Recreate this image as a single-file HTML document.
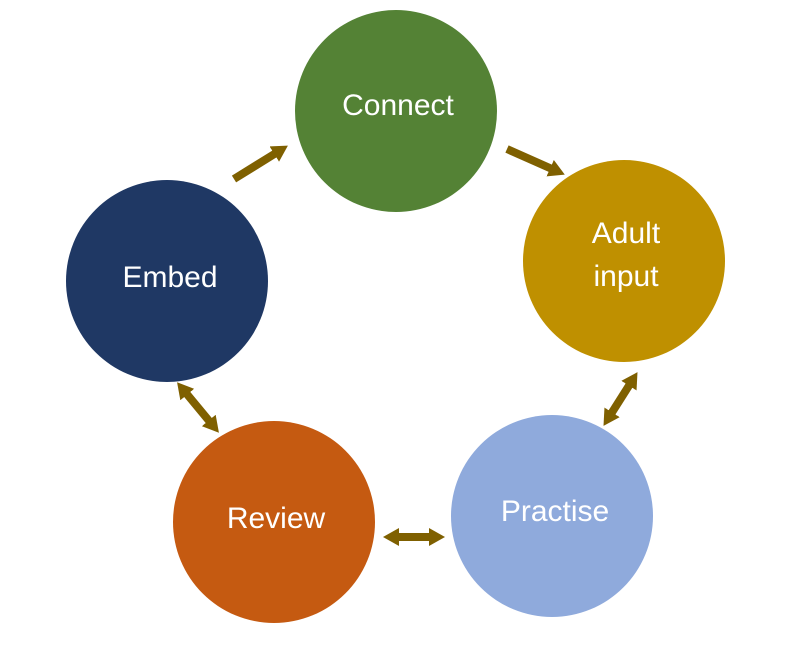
<!DOCTYPE html>
<html><head><meta charset="utf-8"><style>
html,body{margin:0;padding:0;background:#fff;}
svg{display:block}
text{font-family:"Liberation Sans",sans-serif;fill:#fff;font-size:30px;text-anchor:middle}
</style></head><body>
<svg width="794" height="651" viewBox="0 0 794 651">
<defs>
<marker id="h" markerUnits="userSpaceOnUse" markerWidth="16" markerHeight="18" refX="2" refY="9" orient="auto-start-reverse">
<path d="M0,0 L16,9 L0,18 Z" fill="#7F6000"/>
</marker>
</defs>
<circle cx="396" cy="111" r="101" fill="#548235"/>
<circle cx="624" cy="261" r="101" fill="#BF9000"/>
<circle cx="552" cy="516" r="101" fill="#8FAADC"/>
<circle cx="274" cy="522" r="101" fill="#C55A11"/>
<circle cx="167" cy="281" r="101" fill="#1F3864"/>
<g stroke="#7F6000" stroke-width="8" fill="none">
<line x1="234" y1="179" x2="276" y2="153" marker-end="url(#h)"/>
<line x1="507" y1="149" x2="552" y2="169" marker-end="url(#h)"/>
<line x1="630" y1="384" x2="611" y2="414" marker-start="url(#h)" marker-end="url(#h)"/>
<line x1="397" y1="537" x2="431" y2="537" marker-start="url(#h)" marker-end="url(#h)"/>
<line x1="186" y1="393" x2="210" y2="422" marker-start="url(#h)" marker-end="url(#h)"/>
</g>
<text x="398" y="115">Connect</text>
<text x="626" y="243">Adult</text>
<text x="626" y="286">input</text>
<text x="555" y="521">Practise</text>
<text x="276" y="528">Review</text>
<text x="170" y="287">Embed</text>
</svg>
</body></html>
